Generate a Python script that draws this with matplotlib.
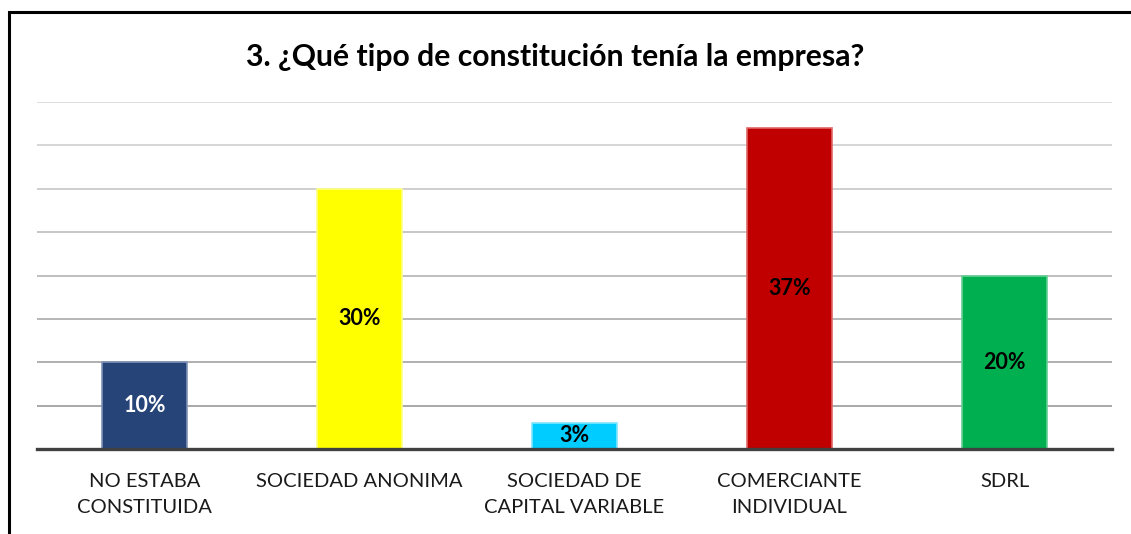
import numpy as np
import matplotlib.pyplot as plt
from matplotlib.patches import Rectangle

# datos de la grafica
categorias = ["NO ESTABA\nCONSTITUIDA", "SOCIEDAD ANONIMA", "SOCIEDAD DE\nCAPITAL VARIABLE",
              "COMERCIANTE\nINDIVIDUAL", "SDRL"]
porcentajes = [10, 30, 3, 37, 20]
etiquetas = ["10%", "30%", "3%", "37%", "20%"]
colores = ["#264478", "#FFFF00", "#00CCFF", "#C00000", "#00B050"]
bordes = ["#8093B8", "#FFFF80", "#80E5FF", "#E06666", "#66D096"]
color_texto = ["white", "black", "black", "black", "black"]

plt.rcParams['font.family'] = ['Lato', 'DejaVu Sans']

fig = plt.figure(figsize=(11.31, 5.34), dpi=100)
ax = fig.add_axes([37/1131, 1-449/534, (1112-37)/1131, (449-102)/534])

x = np.arange(len(categorias))
barras = ax.bar(x, porcentajes, width=0.395, color=colores, edgecolor=bordes,
                linewidth=1.2, zorder=3)

# lineas de cuadricula, mas oscuras hacia abajo
niveles = np.arange(5, 45, 5)
grises = np.linspace(0.63, 0.86, len(niveles))
for nivel, g in zip(niveles, grises):
    ax.axhline(nivel, color=(g, g, g), linewidth=1.3, zorder=1)

ax.set_xlim(-0.5, len(categorias) - 0.5)
ax.set_ylim(0, 40)
ax.set_yticks([])
for lado in ['top', 'right', 'left']:
    ax.spines[lado].set_visible(False)
ax.spines['bottom'].set_color('#404040')
ax.spines['bottom'].set_linewidth(2.4)
ax.spines['bottom'].set_zorder(4)

ax.set_xticks(x)
ax.set_xticklabels(categorias, fontsize=14.5, color='#1a1a1a', linespacing=1.65)
ax.tick_params(axis='x', length=0, pad=17)

textos = ax.bar_label(barras, labels=etiquetas, label_type='center',
                      fontsize=15.5, fontweight='bold')
for t, c in zip(textos, color_texto):
    t.set_color(c)
    t.set_zorder(5)

fig.text(555/1131, 1-57/534, "3. ¿Qué tipo de constitución tenía la empresa?",
         ha='center', va='center', fontsize=21.7, fontweight='bold')

# marco del grafico
marco = Rectangle((9/1131, -0.05), 1.2, 1-11.5/534 + 0.05, transform=fig.transFigure,
                  fill=False, edgecolor='black', linewidth=2.2, clip_on=False)
fig.patches.append(marco)

fig.savefig("out.png", dpi=100)
